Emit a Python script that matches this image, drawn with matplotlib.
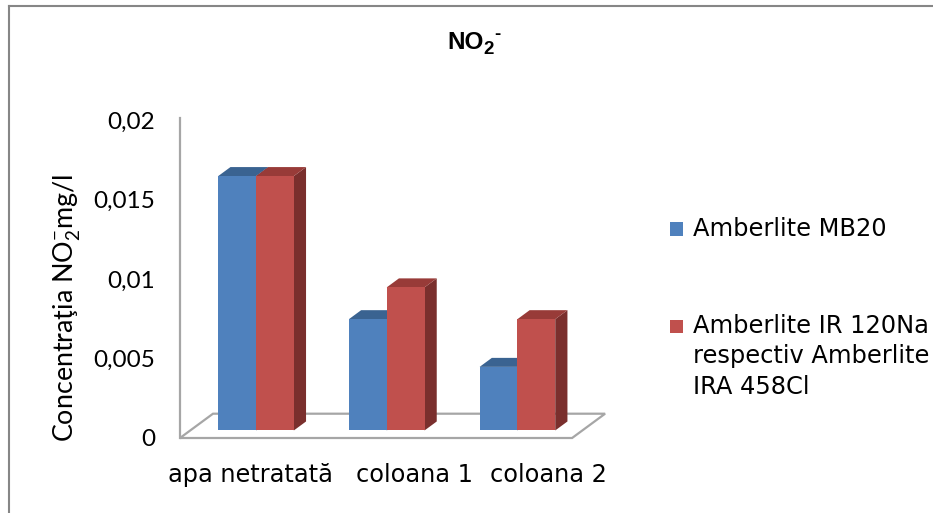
import matplotlib
matplotlib.use("Agg")
import matplotlib.pyplot as plt
from matplotlib.patches import Polygon, Rectangle
from matplotlib.lines import Line2D
from matplotlib import font_manager

# ---- data ----
categories = ["apa netratată", "coloana 1", "coloana 2"]
series_names = ["Amberlite MB20", "Amberlite IR 120Na\nrespectiv Amberlite\nIRA 458Cl"]
mb20 = [0.016, 0.007, 0.004]
ir120_ira458 = [0.016, 0.009, 0.007]
y_ticks = [0, 0.005, 0.01, 0.015, 0.02]
y_tick_labels = ["0", "0,005", "0,01", "0,015", "0,02"]

# ---- style ----
front_cols = ["#4F81BD", "#C0504D"]
top_cols = ["#3A6391", "#983B38"]
side_cols = ["#2E5282", "#7A2F2D"]
grid_col = "#A6A6A6"

installed = {f.name for f in font_manager.fontManager.ttflist}
title_family = "Liberation Sans Narrow" if "Liberation Sans Narrow" in installed else "Liberation Sans"

W, H = 933, 513
fig = plt.figure(figsize=(W / 100, H / 100), dpi=100)
fig.patch.set_facecolor("white")

# pixel geometry of the plot area
PX0, CAT_PX, Y0_PX, VAL_PX = 180.0, 130.7, 438.0, 15900.0
ax_l, ax_r, ax_t, ax_b = 120.0, 660.0, 95.0, 446.0
ax = fig.add_axes([ax_l / W, (H - ax_b) / H, (ax_r - ax_l) / W, (ax_b - ax_t) / H])
ax.set_xlim((ax_l - PX0) / CAT_PX, (ax_r - PX0) / CAT_PX)
ax.set_ylim((Y0_PX - ax_b) / VAL_PX, (Y0_PX - ax_t) / VAL_PX)
ax.patch.set_alpha(0)

# depth of the floor in data units
FLOOR_DX = 33.0 / CAT_PX
FLOOR_DY = 24.3 / VAL_PX
Z0, Z1 = 0.31, 0.68
BAR_W = 37.8 / CAT_PX
GROUP_OFF = 28.0 / CAT_PX
n = len(categories)

# floor outline
floor = Polygon([(0, 0), (n, 0), (n + FLOOR_DX, FLOOR_DY), (FLOOR_DX, FLOOR_DY)],
                closed=True, fill=False, edgecolor=grid_col, lw=1.6, zorder=1)
ax.add_patch(floor)


def bar3d(x_left, value, k):
    ox, oy = Z0 * FLOOR_DX, Z0 * FLOOR_DY
    ddx, ddy = (Z1 - Z0) * FLOOR_DX, (Z1 - Z0) * FLOOR_DY
    xl = x_left + ox
    xr = xl + BAR_W
    yb = oy
    yt = oy + value
    ax.add_patch(Polygon([(xr, yb), (xr + ddx, yb + ddy), (xr + ddx, yt + ddy), (xr, yt)],
                         closed=True, facecolor=side_cols[k], edgecolor="none", zorder=2))
    ax.add_patch(Polygon([(xl, yt), (xr, yt), (xr + ddx, yt + ddy), (xl + ddx, yt + ddy)],
                         closed=True, facecolor=top_cols[k], edgecolor="none", zorder=2))
    ax.add_patch(Rectangle((xl, yb), BAR_W, value, facecolor=front_cols[k],
                           edgecolor="none", zorder=2))


for i in range(n):
    for k, vals in enumerate([mb20, ir120_ira458]):
        bar3d(i + GROUP_OFF + k * BAR_W, vals[i], k)

# value axis
for s in ["top", "right", "bottom"]:
    ax.spines[s].set_visible(False)
ax.spines["left"].set_position(("data", 0))
ax.spines["left"].set_bounds(0, 0.0201)
ax.spines["left"].set_color(grid_col)
ax.spines["left"].set_linewidth(1.6)
ax.set_yticks(y_ticks)
ax.set_yticklabels(y_tick_labels, family="Lato", fontsize=17.5)
ax.tick_params(axis="y", length=0, pad=18)

# category labels
label_pos = [(250 - PX0) / CAT_PX, (415 - PX0) / CAT_PX, (548 - PX0) / CAT_PX]
ax.set_xticks(label_pos)
ax.set_xticklabels(categories, fontsize=17.3, family="DejaVu Sans")
ax.tick_params(axis="x", length=0, pad=12)

# axis title
fig.text(67 / W, 1 - 308 / H, r"Concentraţia NO$_\mathregular{2}^\mathregular{-}$mg/l",
         rotation=90, ha="center", va="center", family="Lato", fontsize=19.4)

# chart title: NO, subscript 2, superscript hyphen
renderer = fig.canvas.get_renderer()
t_no = fig.text(447 / W, 1 - 49 / H, "NO", ha="left", va="baseline",
                family=title_family, weight="bold", fontsize=17.5)
x_after = t_no.get_window_extent(renderer).x1
t_sub = fig.text(x_after / W + 0.0005, 1 - 54 / H, "2", ha="left", va="baseline",
                 family=title_family, weight="bold", fontsize=13.5)
x_after2 = t_sub.get_window_extent(renderer).x1
fig.text(x_after2 / W + 0.0005, 1 - 39 / H, "-", ha="left", va="baseline",
         family=title_family, weight="bold", fontsize=13.5)

# legend
leg_x = 670
for k, (yc, name) in enumerate([(229, series_names[0]), (326, series_names[1])]):
    fig.patches.append(Rectangle((leg_x / W, 1 - (yc + 6.5) / H), 13 / W, 13 / H,
                                 transform=fig.transFigure, facecolor=front_cols[k],
                                 edgecolor="none"))
    fig.text((leg_x + 23) / W, 1 - (yc - 12) / H, name, ha="left", va="top",
             fontsize=17.4, family="DejaVu Sans", linespacing=1.33)

# chart frame
fig.add_artist(Line2D([9 / W, 9 / W], [0, 1 - 6 / H], transform=fig.transFigure,
                      color="#868686", lw=1.5))
fig.add_artist(Line2D([9 / W, 1], [1 - 6 / H, 1 - 6 / H], transform=fig.transFigure,
                      color="#868686", lw=1.5))

fig.savefig("out.png", dpi=100)
